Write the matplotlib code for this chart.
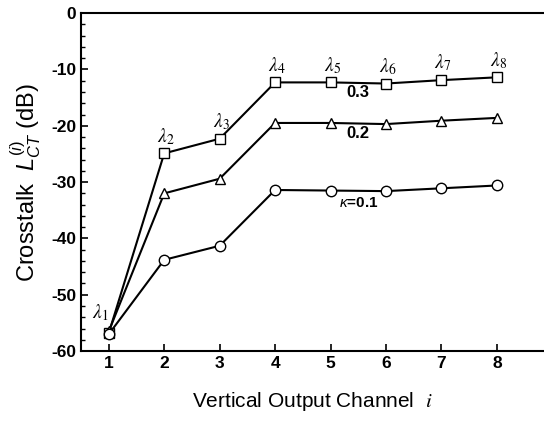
import numpy as np
import matplotlib
matplotlib.use("Agg")
import matplotlib.pyplot as plt
from matplotlib.ticker import MultipleLocator

plt.rcParams['font.family'] = ['Liberation Sans', 'DejaVu Sans']
plt.rcParams['axes.unicode_minus'] = False
plt.rcParams['mathtext.fontset'] = 'custom'
plt.rcParams['mathtext.rm'] = 'Liberation Sans'
plt.rcParams['mathtext.it'] = 'Liberation Sans:italic'
plt.rcParams['mathtext.bf'] = 'Liberation Sans:bold'

# data
channels = [1, 2, 3, 4, 5, 6, 7, 8]
ct_k03 = [-56.8, -24.9, -22.3, -12.3, -12.3, -12.5, -11.9, -11.4]
ct_k02 = [-56.5, -32.0, -29.4, -19.5, -19.5, -19.7, -19.1, -18.6]
ct_k01 = [-57.0, -43.8, -41.3, -31.4, -31.5, -31.6, -31.1, -30.6]
kappa_labels = ['0.3', '0.2', r'$\kappa$=0.1']
lambda_labels = [r'$\lambda_{%d}$' % c for c in channels]

fig = plt.figure(figsize=(5.44, 4.23), dpi=100)
ax = fig.add_axes([0.149, 0.170, 0.851, 0.799])

for vals, mk, ms in [(ct_k03, 's', 6.5), (ct_k02, '^', 7.5), (ct_k01, 'o', 7.5)]:
    ax.plot(channels, vals, color='black', lw=1.5, marker=mk, ms=ms,
            mfc='white', mec='black', mew=1.0)

# channel labels above the top curve
for i, c in enumerate(channels):
    if i == 0:
        ax.text(c - 0.15, ct_k01[0] + 2.0, lambda_labels[i], ha='center', va='bottom',
                fontsize=14, math_fontfamily='stix')
    else:
        ax.text(c + 0.03, ct_k03[i] + 1.2, lambda_labels[i], ha='center', va='bottom',
                fontsize=14, math_fontfamily='stix')

# kappa labels between channels 5 and 6
ax.text(5.5, ct_k03[4] - 0.5, kappa_labels[0], ha='center', va='top', fontsize=12, fontweight='bold')
ax.text(5.5, ct_k02[4] - 0.5, kappa_labels[1], ha='center', va='top', fontsize=12, fontweight='bold')
ax.text(5.5, ct_k01[4] - 0.9, kappa_labels[2], ha='center', va='top', fontsize=11, fontweight='bold')

ax.set_xlim(0.5, 8.85)
ax.set_ylim(-60, 0)
ax.set_xticks(channels)
ax.yaxis.set_major_locator(MultipleLocator(10))
ax.yaxis.set_minor_locator(MultipleLocator(2))
ax.tick_params(axis='both', which='both', direction='in', labelsize=12.5)
ax.tick_params(axis='both', which='major', length=5, width=1.2)
ax.tick_params(axis='y', which='minor', length=3, width=1)
for lab in ax.get_xticklabels() + ax.get_yticklabels():
    lab.set_fontweight('bold')
ax.spines['right'].set_visible(False)
for s in ['left', 'bottom', 'top']:
    ax.spines[s].set_linewidth(1.5)

ax.set_xlabel(r'Vertical Output Channel  $i$', fontsize=15, labelpad=14,
              math_fontfamily='stix')
ax.set_ylabel(r'Crosstalk  $L_{CT}^{(i)}$ (dB)', fontsize=17, labelpad=6)

fig.savefig('out.png', dpi=100)
